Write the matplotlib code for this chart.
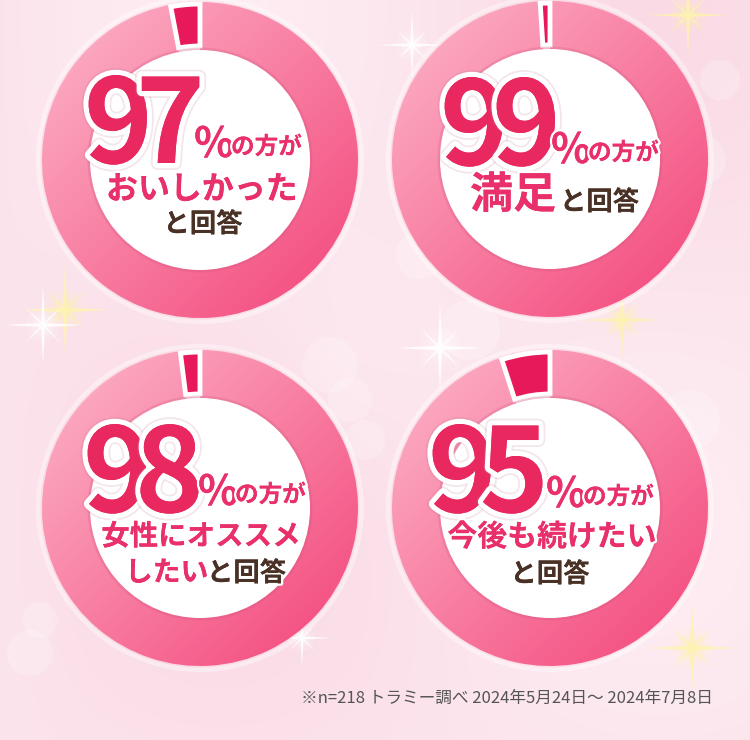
import numpy as np
import matplotlib
matplotlib.use("Agg")
import matplotlib.pyplot as plt
from matplotlib import patheffects as pe
from matplotlib.patches import Circle, Polygon

# data
pcts = [97, 99, 98, 95]
pct_labels = ["97", "99", "98", "95"]
head_tail = "の方が"
pink_lines = ["おいしかった", "満足", "女性にオススメ", "したい", "今後も続けたい"]
brown_tail = "と回答"
note = "※n=218 トラミー調べ 2024年5月24日～ 2024年7月8日"

W, H = 750, 740
JP = ["Noto Sans CJK JP", "DejaVu Sans"]
PINK = "#e9306a"
NUMC = "#e8285f"
BROWN = "#4a3126"
DARK = "#e8195a"


def Y(y):
    # pixel row (from top) -> data y
    return H - y


fig = plt.figure(figsize=(7.5, 7.4), dpi=100)
ax = fig.add_axes([0, 0, 1, 1])

# background gradient
yy, xx = np.mgrid[0:H, 0:W]
t = 0.55 + 0.35 * np.sin(xx / 140.0) * np.cos(yy / 170.0)
c1 = np.array([249, 214, 226]) / 255
c2 = np.array([254, 239, 244]) / 255
bg = c1 * (1 - t[..., None]) + c2 * t[..., None]
glow = np.exp(-((xx - 375) ** 2 + (yy - 330) ** 2) / (2 * 90.0 ** 2))
bg = bg * (1 - 0.5 * glow[..., None]) + 0.5 * glow[..., None] * np.array([1, 0.93, 0.95])
ax.imshow(bg, extent=(0, W, 0, H), origin="upper", zorder=0)

# bokeh
for bx, by, br in [(30, 653, 23), (330, 365, 28), (350, 400, 22), (365, 440, 20),
                   (420, 255, 24), (470, 330, 30), (700, 160, 26), (690, 420, 30),
                   (40, 620, 18), (720, 80, 20)]:
    ax.add_patch(Circle((bx, Y(by)), br, color="white", alpha=0.22, lw=0, zorder=1))


def sparkle(x, y, s, col):
    for k, a in [(2.4, 0.12), (1.6, 0.2)]:
        ax.add_patch(Circle((x, Y(y)), s * 0.18 * k, color=col, alpha=a, lw=0, zorder=1))
    w = s * 0.05
    pts = [(x + s, Y(y)), (x + w, Y(y) + w), (x, Y(y) + s), (x - w, Y(y) + w),
           (x - s, Y(y)), (x - w, Y(y) - w), (x, Y(y) - s), (x + w, Y(y) - w)]
    ax.add_patch(Polygon(pts, closed=True, color=col, alpha=0.85, lw=0, zorder=1))
    d = s * 0.45
    pts = [(x + d, Y(y) + d), (x, Y(y) + w), (x - d, Y(y) + d), (x - w, Y(y)),
           (x - d, Y(y) - d), (x, Y(y) - w), (x + d, Y(y) - d), (x + w, Y(y))]
    ax.add_patch(Polygon(pts, closed=True, color=col, alpha=0.75, lw=0, zorder=1))


sparkle(65, 310, 45, "#fff3b0")
sparkle(43, 325, 40, "white")
sparkle(622, 320, 40, "#fff3b0")
sparkle(440, 348, 45, "white")
sparkle(688, 15, 40, "#fff3b0")
sparkle(412, 45, 35, "white")
sparkle(692, 648, 45, "#fff3b0")
sparkle(302, 638, 30, "white")

centers = [(200, 160), (550, 159), (200, 508), (550, 508)]
R, RIN = 158, 111

# ring gradient colours
ca = np.array([253, 182, 202]) / 255
cb = np.array([243, 68, 121]) / 255
gy, gx = np.mgrid[0:200, 0:200] / 199.0
gt = (gx + gy) / 2
ring_img = ca * (1 - gt[..., None]) + cb * gt[..., None]

for i, (cx, cy) in enumerate(centers):
    p = pcts[i]
    ax.add_patch(Circle((cx, Y(cy)), R + 6, color="white", alpha=0.4, lw=0, zorder=2))
    ax.add_patch(Circle((cx, Y(cy)), R + 1.5, color="#e85a85", alpha=0.12, lw=0, zorder=2))
    w1, _ = ax.pie([p, 100 - p], center=(cx, Y(cy)), radius=R, startangle=90,
                   counterclock=False, colors=["none", "none"],
                   wedgeprops=dict(width=R - RIN + 4, linewidth=0))
    w1[1].set_visible(False)
    im = ax.imshow(ring_img, extent=(cx - R, cx + R, Y(cy) - R, Y(cy) + R),
                   origin="upper", zorder=3)
    im.set_clip_path(w1[0])
    w2, _ = ax.pie([p, 100 - p], center=(cx, Y(cy)), radius=R - 2, startangle=90,
                   counterclock=False, colors=["none", DARK],
                   wedgeprops=dict(width=R - RIN - 5, edgecolor="white", linewidth=3.5))
    w2[0].set_visible(False)
    w2[1].set_zorder(4)
    # inner disc with slight shadow
    ax.add_patch(Circle((cx, Y(cy)), RIN + 1.5, color="#c8507a", alpha=0.22, lw=0, zorder=5))
    ax.add_patch(Circle((cx, Y(cy)), RIN - 1, color="white", lw=0, zorder=5))

num_fx = [pe.withStroke(linewidth=10, foreground=(0.75, 0.45, 0.55, 0.18)),
          pe.withStroke(linewidth=7.5, foreground="white"), pe.Normal()]
txt_fx = [pe.withStroke(linewidth=3.5, foreground="white"), pe.Normal()]

# digits, %, の方が   (left x of first digit, baseline, left x of %, baseline of %)
num_pos = [(84, 163), (440, 165), (83, 512), (428, 512)]
pct_pos = [(194, 157), (551, 163), (198, 505), (546, 507)]
step = 52
for i in range(4):
    nx, ny = num_pos[i]
    for k, ch in enumerate(pct_labels[i]):
        ax.text(nx + k * step, Y(ny), ch, family=JP, weight="bold", fontsize=84,
                color=NUMC, ha="left", va="baseline", zorder=6, path_effects=num_fx)
    px, py = pct_pos[i]
    ax.text(px, Y(py), "%", family=JP, weight="bold", fontsize=30, color=PINK,
            ha="left", va="baseline", zorder=6, path_effects=txt_fx)
    ax.text(px + 37, Y(py - 3), head_tail, family=JP, weight="bold", fontsize=17,
            color=PINK, ha="left", va="baseline", zorder=6, path_effects=txt_fx)

kw = dict(family=JP, weight="bold", va="baseline", zorder=6, path_effects=txt_fx)
# chart 1
ax.text(202, Y(199), pink_lines[0], fontsize=23, color=PINK, ha="center", **kw)
ax.text(203, Y(232), brown_tail, fontsize=19, color=BROWN, ha="center", **kw)
# chart 2
ax.text(470, Y(208), pink_lines[1], fontsize=31, color=PINK, ha="left", **kw)
ax.text(560, Y(210), brown_tail, fontsize=19, color=BROWN, ha="left", **kw)
# chart 3
ax.text(201, Y(545), pink_lines[2], fontsize=20.5, color=PINK, ha="center", **kw)
ax.text(125, Y(581), pink_lines[3], fontsize=20, color=PINK, ha="left", **kw)
ax.text(207, Y(581), brown_tail, fontsize=19, color=BROWN, ha="left", **kw)
# chart 4
ax.text(552, Y(546), pink_lines[4], fontsize=21.5, color=PINK, ha="center", **kw)
ax.text(550, Y(582), brown_tail, fontsize=19, color=BROWN, ha="center", **kw)

ax.text(713, Y(703), note, family=JP, fontsize=12, color="#555555",
        ha="right", va="baseline", zorder=6)

ax.set_xlim(0, W)
ax.set_ylim(0, H)
ax.set_aspect("auto")
ax.axis("off")
fig.savefig("out.png", dpi=100)
